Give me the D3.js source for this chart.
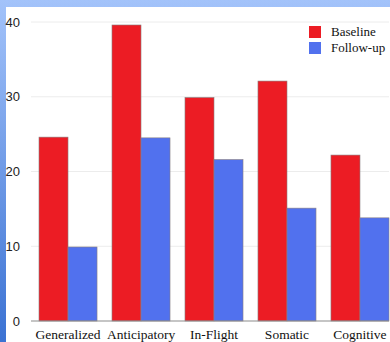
<!DOCTYPE html>
<html>
<head>
<meta charset="utf-8">
<script src="https://cdn.jsdelivr.net/npm/d3@7"></script>
<style>
  html, body { margin: 0; padding: 0; }
  body { width: 390px; height: 342px; overflow: hidden; }
</style>
</head>
<body>
<svg id="chart" width="390" height="342"></svg>
<script>
// Anxiety subscale scores, before and after the programme
const categories = ["Generalized", "Anticipatory", "In-Flight", "Somatic", "Cognitive"];
const baseline = [24.6, 39.6, 29.9, 32.1, 22.2];
const followUp = [9.9, 24.5, 21.6, 15.1, 13.8];
const seriesNames = ["Baseline", "Follow-up"];
const yTicks = [0, 10, 20, 30, 40];

const colors = { "Baseline": "#ec1c24", "Follow-up": "#5171ee" };
const seriesValues = { "Baseline": baseline, "Follow-up": followUp };

const svg = d3.select("#chart");
const W = 390, H = 342;

// Blue frame behind the white panel
const defs = svg.append("defs");
const grad = defs.append("linearGradient").attr("id", "frame").attr("x1", 0).attr("y1", 0).attr("x2", 0).attr("y2", 1);
grad.append("stop").attr("offset", "0%").attr("stop-color", "#a3c3fa");
grad.append("stop").attr("offset", "100%").attr("stop-color", "#3b72d3");
svg.append("rect").attr("width", W).attr("height", H).attr("fill", "url(#frame)");
svg.append("rect").attr("x", 6).attr("y", 7).attr("width", W - 6).attr("height", H - 7).attr("fill", "#ffffff");

const y = d3.scaleLinear().domain([0, 40]).range([321, 22]);
const x0 = d3.scaleBand().domain(categories).range([39, 389]).paddingInner(0.205).paddingOuter(0);
const x1 = d3.scaleBand().domain(seriesNames).range([0, x0.bandwidth()]).padding(0);

// Horizontal grid
svg.append("g")
  .selectAll("line")
  .data(yTicks.filter(d => d > 0))
  .join("line")
  .attr("x1", 31).attr("x2", 389)
  .attr("y1", d => y(d)).attr("y2", d => y(d))
  .attr("stroke", "#ececec").attr("stroke-width", 1);

// Y axis labels
const yAxis = d3.axisLeft(y).tickValues(yTicks).tickSize(0).tickPadding(0).tickFormat(d3.format("d"));
svg.append("g")
  .attr("transform", "translate(20,0)")
  .call(yAxis)
  .call(g => g.select(".domain").remove())
  .call(g => g.selectAll("text")
    .attr("font-family", "'Liberation Sans', Arial, sans-serif")
    .attr("font-size", 13)
    .attr("fill", "#222"));

// Bars
const groups = svg.append("g")
  .selectAll("g")
  .data(categories)
  .join("g")
  .attr("transform", d => `translate(${x0(d)},0)`);

groups.selectAll("rect")
  .data((c, i) => seriesNames.map(s => ({ series: s, value: seriesValues[s][i] })))
  .join("rect")
  .attr("x", d => x1(d.series))
  .attr("y", d => y(d.value))
  .attr("width", x1.bandwidth())
  .attr("height", d => y(0) - y(d.value))
  .attr("fill", d => colors[d.series])
  .attr("stroke", "#8a7f80")
  .attr("stroke-width", 0.6);

// Baseline axis
svg.append("line")
  .attr("x1", 31).attr("x2", 389)
  .attr("y1", y(0)).attr("y2", y(0))
  .attr("stroke", "#8c8c8c").attr("stroke-width", 1.2);

// Category labels
const xAxis = d3.axisBottom(x0).tickSize(0).tickPadding(0);
svg.append("g")
  .attr("transform", "translate(0,339)")
  .call(xAxis)
  .call(g => g.select(".domain").remove())
  .call(g => g.selectAll("text")
    .attr("dy", 0)
    .attr("font-family", "'Liberation Serif', 'Times New Roman', serif")
    .attr("font-size", 13.5)
    .attr("fill", "#111"));

// Legend
const legend = svg.append("g").attr("transform", "translate(309,26)");
const items = legend.selectAll("g").data(seriesNames).join("g")
  .attr("transform", (d, i) => `translate(0,${i * 16})`);
items.append("rect")
  .attr("width", 12).attr("height", 12)
  .attr("fill", d => colors[d]);
items.append("text")
  .attr("x", 22).attr("y", 10)
  .attr("font-family", "'Liberation Serif', 'Times New Roman', serif")
  .attr("font-size", 13)
  .attr("fill", "#111")
  .text(d => d);
</script>
</body>
</html>
